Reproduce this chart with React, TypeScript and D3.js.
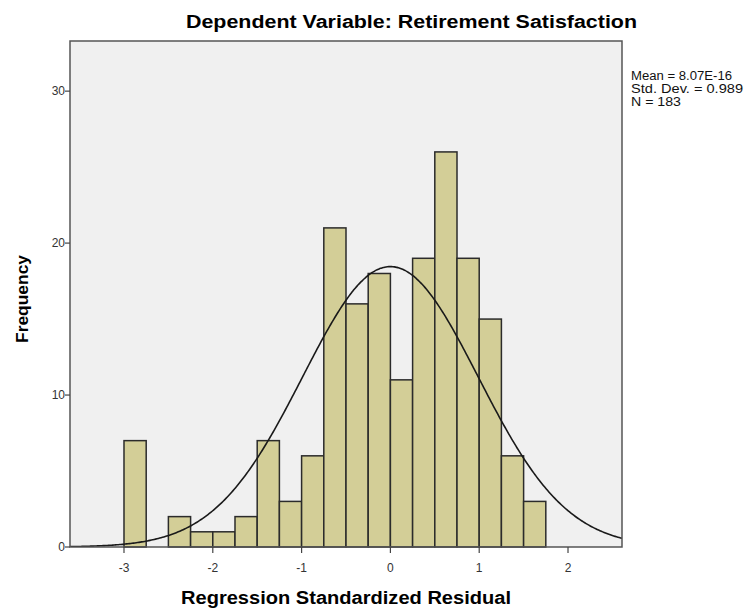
import React from "react";
import * as d3 from "d3";

const binStarts = [-3, -2.75, -2.5, -2.25, -2, -1.75, -1.5, -1.25, -1, -0.75, -0.5, -0.25, 0, 0.25, 0.5, 0.75, 1, 1.25, 1.5];
const counts = [7, 0, 2, 1, 1, 2, 7, 3, 6, 21, 16, 18, 11, 19, 26, 19, 15, 6, 3];
const binWidth = 0.25;
const xTicks = [-3, -2, -1, 0, 1, 2];
const yTicks = [0, 10, 20, 30];
const statsLines = ["Mean = 8.07E-16", "Std. Dev. = 0.989", "N = 183"];
const statsWidths = [101, 112, 50];
const mean = 8.07e-16;
const sd = 0.989;
const n = 183;

const W = 747, H = 608;
const L = 70, R = 622, T = 41, B = 547;

export default function App() {
  const x = d3.scaleLinear().domain([-3.608, 2.608]).range([L, R]);
  const y = d3.scaleLinear().domain([0, 33.3]).range([B, T]);
  const pdf = (v: number) => (n * binWidth) / (sd * Math.sqrt(2 * Math.PI)) * Math.exp(-0.5 * ((v - mean) / sd) ** 2);
  const pts = d3.range(0, 401).map(i => -3.608 + (i / 400) * (2.608 + 3.608));
  const line = d3.line<number>().x(v => x(v)).y(v => y(pdf(v))).curve(d3.curveBasis);
  const font = "'Liberation Sans', Arial, sans-serif";
  return (
    <svg width={W} height={H} style={{ position: "absolute", left: 0, top: 0, background: "#fff" }} fontFamily={font}>
      <text x={411.5} y={28} textAnchor="middle" fontSize={18} fontWeight="bold" fill="#000"
        textLength={451} lengthAdjust="spacingAndGlyphs">Dependent Variable: Retirement Satisfaction</text>
      <rect x={L} y={T} width={R - L} height={B - T} fill="#f0f0f0" stroke="none" />
      <defs>
        <clipPath id="pc"><rect x={L} y={T} width={R - L} height={B - T} /></clipPath>
      </defs>
      {binStarts.map((s, i) => counts[i] > 0 ? (
        <rect key={i} x={x(s)} y={y(counts[i])} width={x(s + binWidth) - x(s)} height={y(0) - y(counts[i])}
          fill="#d3ce97" stroke="#2b2b2b" strokeWidth={1.5} />
      ) : null)}
      <path d={line(pts) || ""} fill="none" stroke="#1a1a1a" strokeWidth={1.6} clipPath="url(#pc)" />
      <rect x={L} y={T} width={R - L} height={B - T} fill="none" stroke="#555" strokeWidth={1.5} />
      {yTicks.map(t => (
        <g key={t}>
          <line x1={L - 5} x2={L} y1={y(t)} y2={y(t)} stroke="#444" strokeWidth={1.2} />
          <text x={L - 5} y={y(t) + 4} textAnchor="end" fontSize={12} fill="#333">{t}</text>
        </g>
      ))}
      {xTicks.map(t => (
        <g key={t}>
          <line x1={x(t)} x2={x(t)} y1={B} y2={B + 6} stroke="#444" strokeWidth={1.2} />
          <text x={x(t)} y={B + 25} textAnchor="middle" fontSize={12} fill="#333">{t}</text>
        </g>
      ))}
      <text x={346} y={604} textAnchor="middle" fontSize={18} fontWeight="bold" fill="#000"
        textLength={330} lengthAdjust="spacingAndGlyphs">Regression Standardized Residual</text>
      <text transform={`translate(28,${(T + B) / 2 + 5}) rotate(-90)`} textAnchor="middle" fontSize={17} fontWeight="bold" fill="#000"
        textLength={88} lengthAdjust="spacingAndGlyphs">Frequency</text>
      {statsLines.map((s, i) => (
        <text key={i} x={631} y={80 + i * 13} fontSize={12} fill="#111"
          textLength={statsWidths[i]} lengthAdjust="spacingAndGlyphs">{s}</text>
      ))}
    </svg>
  );
}
